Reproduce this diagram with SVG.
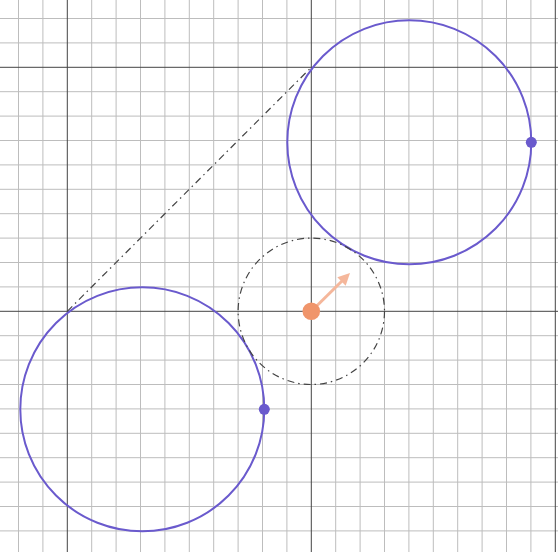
<svg xmlns="http://www.w3.org/2000/svg" width="558" height="552" viewBox="0 0 558 552">
<style>
.minor{stroke:#bdbdbd;stroke-width:1;fill:none}
.major{stroke:#444;stroke-width:1;fill:none}
.circ{stroke:#6a5acd;stroke-width:2;fill:none}
.dot{fill:#6a5acd}
.dashdot{stroke:#444;stroke-width:1.2;fill:none;stroke-dasharray:7 4 1.5 4}
</style>
<rect width="558" height="552" fill="#fff"/>
<g id="grid">
<path class="minor" d="M18.5 0V552M42.9 0V552M91.7 0V552M116.1 0V552M140.5 0V552M164.9 0V552M189.3 0V552M213.7 0V552M238.1 0V552M262.5 0V552M286.9 0V552M335.7 0V552M360.1 0V552M384.5 0V552M408.9 0V552M433.3 0V552M457.7 0V552M482.1 0V552M506.5 0V552M530.9 0V552M0 18.5H558M0 42.9H558M0 91.7H558M0 116.1H558M0 140.5H558M0 164.9H558M0 189.3H558M0 213.7H558M0 238.1H558M0 262.5H558M0 286.9H558M0 335.7H558M0 360.1H558M0 384.5H558M0 408.9H558M0 433.3H558M0 457.7H558M0 482.1H558M0 506.5H558M0 530.9H558"/>
<path class="major" d="M67.3 0V552M311.3 0V552M555.3 0V552M0 67.3H558M0 311.3H558"/>
</g>
<g id="connectors">
<line class="dashdot" x1="67.3" y1="311.3" x2="311.3" y2="67.3"/>
</g>
<g id="circle-top">
<circle class="circ" cx="409.3" cy="142.3" r="122"/>
<circle class="dot" cx="531.3" cy="142.3" r="5.5"/>
</g>
<g id="circle-bottom">
<circle class="circ" cx="142.3" cy="409.3" r="122"/>
<circle class="dot" cx="264.3" cy="409.3" r="5.5"/>
</g>
<g id="center">
<circle class="dashdot" cx="311.3" cy="311.3" r="73.2"/>
<line x1="311.3" y1="311.3" x2="342" y2="281" stroke="#f5b79b" stroke-width="3"/>
<polygon points="350,273 345.7,285.7 337.3,277.3" fill="#f5b79b"/>
<circle cx="311.3" cy="311.3" r="8.8" fill="#f0956b"/>
</g>
</svg>
